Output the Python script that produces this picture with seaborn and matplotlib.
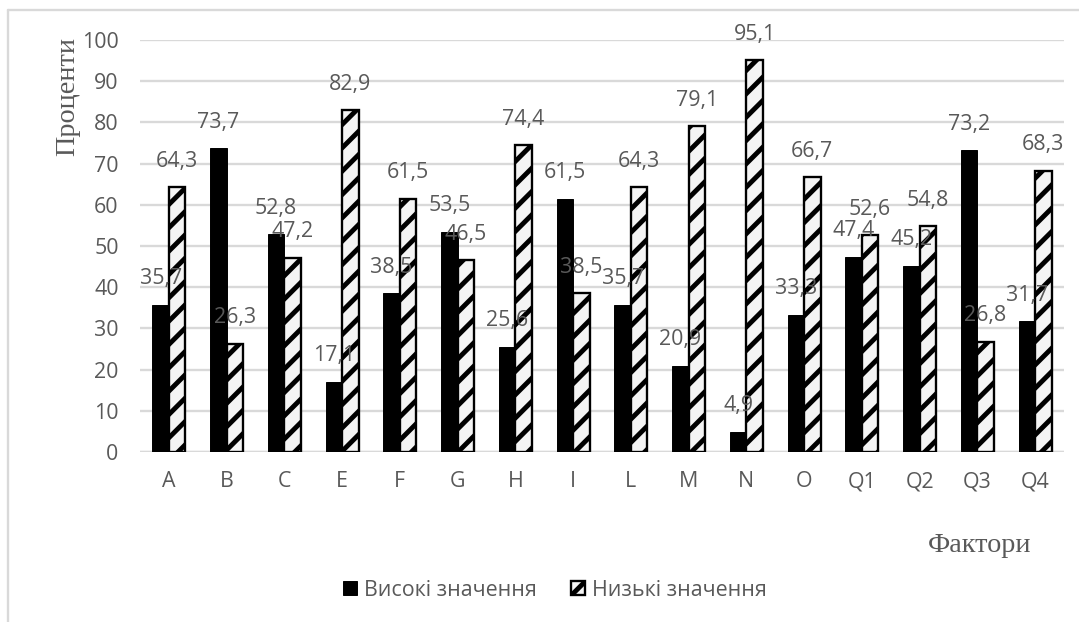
import matplotlib
matplotlib.use("Agg")
import matplotlib.pyplot as plt
from matplotlib.lines import Line2D
import seaborn as sns
import pandas as pd

# Data
factors = ["A", "B", "C", "E", "F", "G", "H", "I", "L", "M", "N", "O", "Q1", "Q2", "Q3", "Q4"]
high_values = [35.7, 73.7, 52.8, 17.1, 38.5, 53.5, 25.6, 61.5, 35.7, 20.9, 4.9, 33.3, 47.4, 45.2, 73.2, 31.7]
low_values = [64.3, 26.3, 47.2, 82.9, 61.5, 46.5, 74.4, 38.5, 64.3, 79.1, 95.1, 66.7, 52.6, 54.8, 26.8, 68.3]
series_names = ["Високі значення", "Низькі значення"]
y_ticks = [0, 10, 20, 30, 40, 50, 60, 70, 80, 90, 100]

df = pd.DataFrame({
    "factor": factors * 2,
    "group": [series_names[0]] * len(factors) + [series_names[1]] * len(factors),
    "value": high_values + low_values,
})

sns.set_theme(style="white")
plt.rcParams["font.family"] = ["Open Sans", "DejaVu Sans"]
plt.rcParams["hatch.linewidth"] = 2.5

W, H, DPI = 1079, 622, 140
fig = plt.figure(figsize=(W / DPI, H / DPI), dpi=DPI)
ax = fig.add_axes([140 / W, 1 - 452 / H, 924 / W, 412 / H])

text_grey = "#595959"
grid_grey = "#d9d9d9"
label_size = 11

sns.barplot(
    data=df, x="factor", y="value", hue="group", hue_order=series_names,
    order=factors, palette={series_names[0]: "black", series_names[1]: "#f4f4f4"},
    width=0.57, saturation=1, legend=False, ax=ax, errorbar=None,
)

# Solid series
for p in ax.containers[0]:
    p.set_edgecolor("black")
    p.set_linewidth(0.5)
    p.set_zorder(3)
# Hatched series
for p in ax.containers[1]:
    p.set_hatch("//")
    p.set_edgecolor("black")
    p.set_linewidth(1.2)
    p.set_zorder(3)

# Value labels above every bar, drawn over the bars
for cont, vals in zip(ax.containers, [high_values, low_values]):
    labels = [f"{v:.1f}".replace(".", ",") for v in vals]
    anns = ax.bar_label(cont, labels=labels, padding=8, fontsize=label_size, color=text_grey)
    for a in anns:
        a.set_zorder(6)
        a.set_clip_on(False)

ax.set_ylim(0, 100)
ax.set_xlim(-0.5, len(factors) - 0.5)
ax.set_yticks(y_ticks)
ax.yaxis.grid(True, color=grid_grey, linewidth=1.2, zorder=0)
ax.set_axisbelow(True)
for s in ax.spines.values():
    s.set_visible(False)
ax.axhline(0, color=grid_grey, linewidth=1.2, zorder=1)
ax.tick_params(axis="y", length=0, pad=11, labelsize=label_size, labelcolor=text_grey)
ax.tick_params(axis="x", length=0, pad=10, labelsize=label_size, labelcolor=text_grey)
ax.set_xlabel("")
ax.set_ylabel("")

# Axis titles
fig.text(68 / W, 1 - 96 / H, "Проценти", rotation=90, ha="center", va="center",
         fontsize=14.5, color=text_grey, family=["Liberation Serif", "DejaVu Serif"])
fig.text(980 / W, 1 - 546 / H, "Фактори", ha="center", va="center",
         fontsize=14.5, color=text_grey, family=["Liberation Serif", "DejaVu Serif"])

# Legend
leg = fig.legend(
    handles=[ax.containers[0], ax.containers[1]], labels=series_names,
    loc="center", bbox_to_anchor=(555 / W, 1 - 590 / H), ncol=2, frameon=False,
    fontsize=label_size, handlelength=0.65, handleheight=0.65, handletextpad=0.35,
    columnspacing=1.6, labelcolor=text_grey,
)

# Chart area border (top and left edges)
x0, y0 = 8 / W, 1 - 10 / H
fig.add_artist(Line2D([x0, 1], [y0, y0], color=grid_grey, linewidth=1.2, transform=fig.transFigure))
fig.add_artist(Line2D([x0, x0], [y0, 0], color=grid_grey, linewidth=1.2, transform=fig.transFigure))

fig.savefig("out.png", dpi=DPI, facecolor="white")
